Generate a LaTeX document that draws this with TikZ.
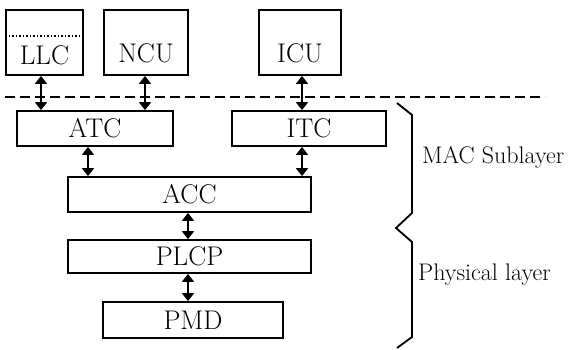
\documentclass[tikz,border=0pt]{standalone}
\usepackage{fontspec}
\usetikzlibrary{arrows.meta}
\begin{document}
\begin{tikzpicture}[x=1pt,y=-1pt,
  box/.style={draw,line width=1.8pt,rectangle,inner sep=0pt,minimum height=35pt},
  lbl/.style={font=\fontsize{27}{32}\selectfont,inner sep=0pt},
  side/.style={font=\fontsize{24}{28}\selectfont,inner sep=0pt,anchor=west},
  dbl/.style={line width=1.8pt,{Triangle[width=12pt,length=8pt]}-{Triangle[width=12pt,length=8pt]}},
  brace/.style={line width=1.8pt,line join=miter}]
\useasboundingbox (0,0) rectangle (568,349);
% top boxes
\node[box,minimum width=77pt,minimum height=65pt] (llc) at (44.5,42.5) {};
\node[box,minimum width=84pt,minimum height=65pt] (ncu) at (146,42.5) {};
\node[box,minimum width=82pt,minimum height=65pt] (icu) at (300,42.5) {};
\node[lbl] (llct) at (44.5,55) {LLC};
\node[lbl] (ncut) at (146,53) {NCU};
\node[lbl] (icut) at (300,53) {ICU};
\draw[dotted,line width=1.5pt] (llc.west |- 0,36) -- (llc.east |- 0,36);
% dashed separator
\coordinate (dl) at (5,97);
\coordinate (dr) at (545,97);
\draw[line width=1.8pt,dash pattern=on 10pt off 5pt] (dl) -- (dr);
% MAC boxes
\node[box,lbl,minimum width=156pt] (atc) at (95,128.5) {ATC};
\node[box,lbl,minimum width=154pt] (itc) at (309,128.5) {ITC};
\node[box,lbl,minimum width=243pt] (acc) at (189.5,194.5) {ACC};
\node[box,lbl,minimum width=243pt,minimum height=33pt] (plcp) at (189.5,256.5) {PLCP};
\node[box,lbl,minimum width=180pt,minimum height=36pt] (pmd) at (193,320) {PMD};
% arrows
\draw[dbl] (llc.south -| 41,0) -- (atc.north -| 41,0);
\draw[dbl] (ncu.south -| 145,0) -- (atc.north -| 145,0);
\draw[dbl] (icu.south -| 302,0) -- (itc.north -| 302,0);
\draw[dbl] (atc.south -| 88,0) -- (acc.north -| 88,0);
\draw[dbl] (itc.south -| 302,0) -- (acc.north -| 302,0);
\draw[dbl] (acc.south -| 188,0) -- (plcp.north -| 188,0);
\draw[dbl] (plcp.south -| 188,0) -- (pmd.north -| 188,0);
% brace
\draw[brace] (397,103) -- (412,115) -- (412,213) -- (396,228) -- (412,242) -- (412,337) -- (397,348);
% side labels
\node[side] (mac) at (422,157) {MAC Sublayer};
\node[side] (phy) at (418,275) {Physical layer};
\end{tikzpicture}
\end{document}
